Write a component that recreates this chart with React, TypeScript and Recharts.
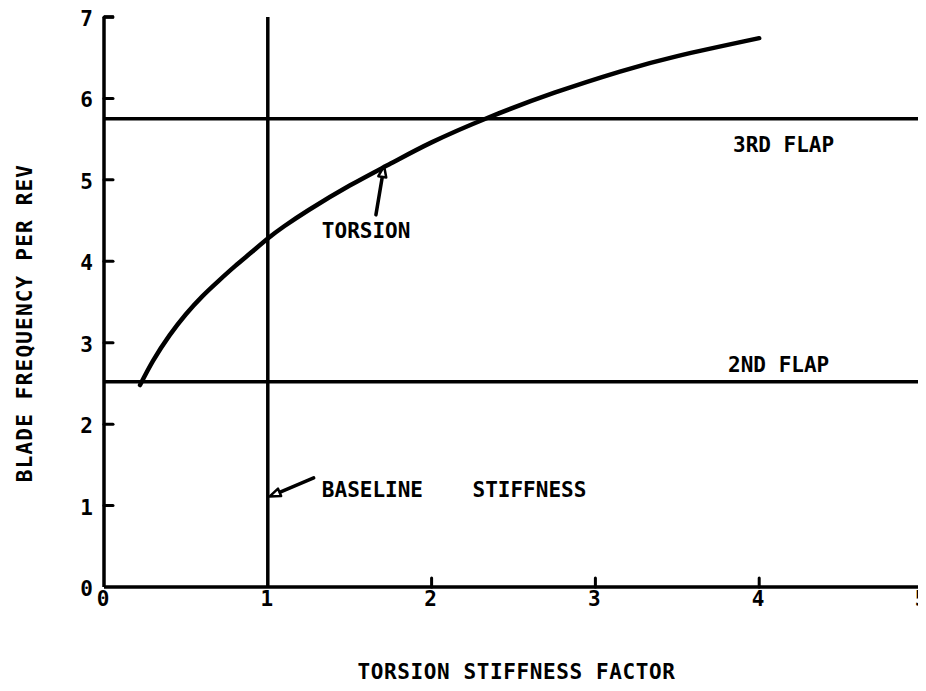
import React from "react";
import { LineChart, Line, XAxis, YAxis, ReferenceLine, ReferenceDot } from "recharts";

const stiffness = [0.22, 0.3, 0.4, 0.5, 0.6, 0.7, 0.8, 0.9, 1.0, 1.1, 1.25, 1.5, 1.75, 2.0, 2.34, 2.75, 3.15, 3.5, 4.0];
const torsionFreq = [2.48, 2.78, 3.09, 3.35, 3.57, 3.76, 3.94, 4.11, 4.28, 4.43, 4.63, 4.93, 5.2, 5.46, 5.76, 6.07, 6.33, 6.52, 6.74];

const xTicks = [0, 1, 2, 3, 4, 5];
const yTicks = [0, 1, 2, 3, 4, 5, 6, 7];

const flapNames = ["3RD FLAP", "2ND FLAP"];
const flapFreq = [5.75, 2.52];
const flapLabelPos = [{ x: 3.84, y: 5.34 }, { x: 3.81, y: 2.64 }];

const baselineStiffness = 1;

const notes = [
  { text: "TORSION", x: 1.33, y: 4.29 },
  { text: "BASELINE", x: 1.33, y: 1.11 },
  { text: "STIFFNESS", x: 2.25, y: 1.1 },
];

// arrow shaft start -> tip (tip is where the head sits)
const arrows = [
  { from: { x: 1.66, y: 4.57 }, to: { x: 1.71, y: 5.17 } },
  { from: { x: 1.28, y: 1.34 }, to: { x: 1.01, y: 1.11 } },
];

const data = stiffness.map((x, i) => ({ x, torsion: torsionFreq[i] }));

const FONT = "'DejaVu Sans Mono', 'Liberation Mono', monospace";
const INK = "#000";

const YTick = (props: any) => {
  const { x, y, payload } = props;
  const axisX = x + 12;
  return (
    <g>
      {payload.value > 0 && (
        <line x1={axisX} y1={y} x2={axisX + 9} y2={y} stroke={INK} strokeWidth={3} strokeLinecap="round" />
      )}
      <text x={x + 1} y={y + 2} textAnchor="end" dominantBaseline="central" fontFamily={FONT} fontWeight="bold" fontSize={21} fill={INK}>
        {payload.value}
      </text>
    </g>
  );
};

const XTick = (props: any) => {
  const { x, y, payload } = props;
  const axisY = y - 3;
  return (
    <g>
      {payload.value > 1 && (
        <line x1={x} y1={axisY} x2={x} y2={axisY - 9} stroke={INK} strokeWidth={3} strokeLinecap="round" />
      )}
      <text x={x - 1} y={y + 16} textAnchor="middle" fontFamily={FONT} fontWeight="bold" fontSize={21} fill={INK}>
        {payload.value}
      </text>
    </g>
  );
};

const ArrowShape = (props: any) => {
  const { x1, y1, x2, y2 } = props;
  const dx = x2 - x1;
  const dy = y2 - y1;
  const len = Math.sqrt(dx * dx + dy * dy) || 1;
  const ux = dx / len;
  const uy = dy / len;
  const headLen = 11;
  const headW = 4;
  const bx = x2 - ux * headLen;
  const by = y2 - uy * headLen;
  const pts = [
    [x2, y2],
    [bx - uy * headW, by + ux * headW],
    [bx + uy * headW, by - ux * headW],
  ]
    .map((p) => p.join(","))
    .join(" ");
  return (
    <g>
      <line x1={x1} y1={y1} x2={bx} y2={by} stroke={INK} strokeWidth={3.5} strokeLinecap="round" />
      <polygon points={pts} fill="#fff" stroke={INK} strokeWidth={2.5} strokeLinejoin="round" />
    </g>
  );
};

const noteShape = (text: string) => (p: any) => (
  <text x={p.cx} y={p.cy} fontFamily={FONT} fontWeight="bold" fontSize={21} fill={INK}>
    {text}
  </text>
);

export default function App() {
  return (
    <div style={{ width: 918, height: 675, background: "#fff" }}>
      <LineChart width={918} height={675} data={data} margin={{ top: 9, right: 3, left: 0, bottom: 0 }}>
        <XAxis
          dataKey="x"
          type="number"
          domain={[0, 5]}
          ticks={xTicks}
          height={96}
          tickSize={0}
          tickMargin={3}
          tick={<XTick />}
          axisLine={{ stroke: INK, strokeWidth: 3.5 }}
          label={(p: any) => {
            const vb = p.viewBox;
            return (
              <text x={vb.x + vb.width / 2 + 3} y={vb.y + 92} textAnchor="middle" fontFamily={FONT} fontWeight="bold" fontSize={21} letterSpacing={0.6} fill={INK}>
                TORSION STIFFNESS FACTOR
              </text>
            );
          }}
        />
        <YAxis
          type="number"
          domain={[0, 7]}
          ticks={yTicks}
          width={96}
          tickSize={0}
          tickMargin={12}
          tick={<YTick />}
          axisLine={{ stroke: INK, strokeWidth: 3.5 }}
          label={(p: any) => {
            const vb = p.viewBox;
            const cx = 17;
            const cy = vb.y + vb.height / 2 + 21;
            return (
              <text x={cx} y={cy} transform={`rotate(-90 ${cx} ${cy})`} textAnchor="middle" dominantBaseline="central" fontFamily={FONT} fontWeight="bold" fontSize={21} letterSpacing={1.2} fill={INK}>
                BLADE FREQUENCY PER REV
              </text>
            );
          }}
        />
        {/* top cap of the frequency axis */}
        <ReferenceLine segment={[{ x: 0, y: 7 }, { x: 0.06, y: 7 }]} stroke={INK} strokeWidth={3.5} />
        <ReferenceLine x={baselineStiffness} stroke={INK} strokeWidth={3.5} />
        {flapFreq.map((f, i) => (
          <ReferenceLine key={flapNames[i]} y={f} stroke={INK} strokeWidth={3.5} />
        ))}
        {flapNames.map((n, i) => (
          <ReferenceDot key={n} x={flapLabelPos[i].x} y={flapLabelPos[i].y} r={0} shape={noteShape(n)} />
        ))}
        {notes.map((n) => (
          <ReferenceDot key={n.text} x={n.x} y={n.y} r={0} shape={noteShape(n.text)} />
        ))}
        {arrows.map((a, i) => (
          <ReferenceLine key={i} segment={[a.from, a.to]} shape={<ArrowShape />} />
        ))}
        <Line
          dataKey="torsion"
          type="natural"
          stroke={INK}
          strokeWidth={4.5}
          strokeLinecap="round"
          dot={false}
          isAnimationActive={false}
        />
      </LineChart>
    </div>
  );
}
